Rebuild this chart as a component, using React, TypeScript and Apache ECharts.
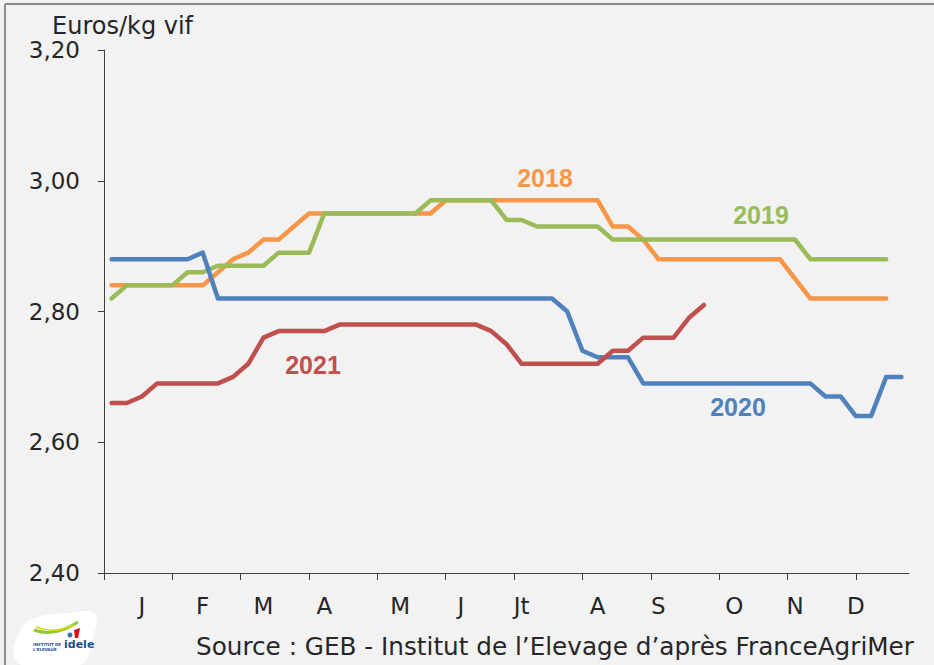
import React, { useEffect, useRef } from "react";
import * as echarts from "echarts";

const monthLabels = ["J", "F", "M", "A", "M", "J", "Jt", "A", "S", "O", "N", "D"];
const monthLabelWeeks = [2, 6, 10, 14, 19, 23, 27, 32, 36, 41, 45, 49];
const monthTickWeeks = [0, 4.5, 9, 13.5, 18, 22.5, 27, 31.5, 36, 40.5, 45, 49.5];

const seriesNames = ["2018", "2019", "2020", "2021"];

const prices2018 = [
  2.84, 2.84, 2.84, 2.84, 2.84, 2.84, 2.84, 2.86, 2.88, 2.89,
  2.91, 2.91, 2.93, 2.95, 2.95, 2.95, 2.95, 2.95, 2.95, 2.95,
  2.95, 2.95, 2.97, 2.97, 2.97, 2.97, 2.97, 2.97, 2.97, 2.97,
  2.97, 2.97, 2.97, 2.93, 2.93, 2.91, 2.88, 2.88, 2.88, 2.88,
  2.88, 2.88, 2.88, 2.88, 2.88, 2.85, 2.82, 2.82, 2.82, 2.82,
  2.82, 2.82,
];
const prices2019 = [
  2.82, 2.84, 2.84, 2.84, 2.84, 2.86, 2.86, 2.87, 2.87, 2.87,
  2.87, 2.89, 2.89, 2.89, 2.95, 2.95, 2.95, 2.95, 2.95, 2.95,
  2.95, 2.97, 2.97, 2.97, 2.97, 2.97, 2.94, 2.94, 2.93, 2.93,
  2.93, 2.93, 2.93, 2.91, 2.91, 2.91, 2.91, 2.91, 2.91, 2.91,
  2.91, 2.91, 2.91, 2.91, 2.91, 2.91, 2.88, 2.88, 2.88, 2.88,
  2.88, 2.88,
];
const prices2020 = [
  2.88, 2.88, 2.88, 2.88, 2.88, 2.88, 2.89, 2.82, 2.82, 2.82,
  2.82, 2.82, 2.82, 2.82, 2.82, 2.82, 2.82, 2.82, 2.82, 2.82,
  2.82, 2.82, 2.82, 2.82, 2.82, 2.82, 2.82, 2.82, 2.82, 2.82,
  2.80, 2.74, 2.73, 2.73, 2.73, 2.69, 2.69, 2.69, 2.69, 2.69,
  2.69, 2.69, 2.69, 2.69, 2.69, 2.69, 2.69, 2.67, 2.67, 2.64,
  2.64, 2.70, 2.70,
];
const prices2021 = [
  2.66, 2.66, 2.67, 2.69, 2.69, 2.69, 2.69, 2.69, 2.70, 2.72,
  2.76, 2.77, 2.77, 2.77, 2.77, 2.78, 2.78, 2.78, 2.78, 2.78,
  2.78, 2.78, 2.78, 2.78, 2.78, 2.77, 2.75, 2.72, 2.72, 2.72,
  2.72, 2.72, 2.72, 2.74, 2.74, 2.76, 2.76, 2.76, 2.79, 2.81,
];

const colors = ["#F79646", "#9BBB59", "#4F81BD", "#C0504D"];
const FONT = "DejaVu Sans";
const LABEL_FONT = "Liberation Sans";
const TEXT = "#262626";

export default function App() {
  const ref = useRef<HTMLDivElement>(null);
  useEffect(() => {
    if (!ref.current) return;
    const chart = echarts.init(ref.current, undefined, { renderer: "svg" });
    const all = [prices2018, prices2019, prices2020, prices2021];
    const series = all.map((arr, k) => ({
      name: seriesNames[k],
      type: "line",
      data: arr.map((v, i) => [i + 0.5, v]),
      showSymbol: false,
      symbol: "none",
      lineStyle: { color: colors[k], width: 4.5, cap: "round", join: "round" },
      itemStyle: { color: colors[k] },
      z: 2 + k,
    }));
    const seriesLabel = (text: string, x: number, y: number, color: string) => ({
      type: "text", x, y,
      style: { text, font: `bold 25px "${LABEL_FONT}"`, fill: color, align: "center", verticalAlign: "middle" },
    });
    chart.setOption({
      animation: false,
      backgroundColor: "#f2f2f2",
      grid: { left: 104, right: 25, top: 50, bottom: 92, containLabel: false },
      xAxis: {
        type: "value",
        min: 0,
        max: 53,
        axisLine: { show: true, onZero: false, lineStyle: { color: "#404040", width: 1 } },
        axisTick: {
          show: true,
          length: 7,
          customValues: monthTickWeeks,
          lineStyle: { color: "#404040" },
        },
        splitLine: { show: false },
        axisLabel: {
          customValues: monthLabelWeeks.map((w) => w + 0.5),
          formatter: (v: number) => {
            const idx = monthLabelWeeks.indexOf(Math.round(v - 0.5));
            return idx >= 0 ? monthLabels[idx] : "";
          },
          fontFamily: FONT,
          fontSize: 23,
          color: TEXT,
          margin: 21,
        },
      },
      yAxis: {
        type: "value",
        min: 2.4,
        max: 3.2,
        interval: 0.2,
        axisLine: { show: true, lineStyle: { color: "#404040", width: 1 } },
        axisTick: { show: true, length: 6, lineStyle: { color: "#404040" } },
        splitLine: { show: false },
        axisLabel: {
          formatter: (v: number) => v.toFixed(2).replace(".", ","),
          fontFamily: FONT,
          fontSize: 23,
          color: TEXT,
          margin: 24,
        },
      },
      series,
      graphic: [
        { type: "line", shape: { x1: 5, y1: 4, x2: 934, y2: 4 }, style: { stroke: "#8c8c8c", lineWidth: 2 }, silent: true },
        { type: "line", shape: { x1: 5, y1: 4, x2: 5, y2: 665 }, style: { stroke: "#8c8c8c", lineWidth: 2 }, silent: true },
        {
          type: "text", x: 52, y: 26,
          style: { text: "Euros/kg vif", font: `24px "${FONT}"`, fill: TEXT, verticalAlign: "middle" },
        },
        {
          type: "text", x: 196, y: 646,
          style: { text: "Source : GEB - Institut de l\u2019Elevage d\u2019apr\u00e8s FranceAgriMer", font: `24.7px "${FONT}"`, fill: TEXT, verticalAlign: "middle" },
        },
        seriesLabel(seriesNames[0], 545, 178, colors[0]),
        seriesLabel(seriesNames[1], 761, 215, colors[1]),
        seriesLabel(seriesNames[2], 738, 407, colors[2]),
        seriesLabel(seriesNames[3], 313, 365, colors[3]),
        {
          type: "polygon",
          shape: { points: [[16, 640], [30, 620], [70, 613], [95, 614], [92, 640], [80, 665], [22, 665], [14, 655]], smooth: 0.4 },
          style: { fill: "#ffffff" },
          silent: true,
        },
        {
          type: "bezierCurve",
          shape: { x1: 34, y1: 630, x2: 78, y2: 622, cpx1: 50, cpy1: 636, cpx2: 66, cpy2: 630 },
          style: { stroke: "#8dc63f", lineWidth: 3, fill: "none" },
          silent: true,
        },
        {
          type: "bezierCurve",
          shape: { x1: 36, y1: 627, x2: 74, y2: 625, cpx1: 52, cpy1: 633, cpx2: 64, cpy2: 630 },
          style: { stroke: "#d4d800", lineWidth: 1.5, fill: "none" },
          silent: true,
        },
        { type: "polygon", shape: { points: [[74, 630], [80, 628], [78, 638], [75, 638]] }, style: { fill: "#e30613" }, silent: true },
        { type: "circle", shape: { cx: 70, cy: 635, r: 2.5 }, style: { fill: "#3b6fb6" }, silent: true },
        { type: "text", x: 33, y: 642, style: { text: "INSTITUT DE", font: `bold 4px "${FONT}"`, fill: "#1d4f91" }, silent: true },
        { type: "text", x: 33, y: 647, style: { text: "L'ELEVAGE", font: `bold 4px "${FONT}"`, fill: "#1d4f91" }, silent: true },
        { type: "text", x: 64, y: 639, style: { text: "idele", font: `bold 11px "${FONT}"`, fill: "#1d4f91" }, silent: true },
      ],
    });
    return () => chart.dispose();
  }, []);
  return (
    <div
      ref={ref}
      style={{ position: "absolute", left: 0, top: 0, width: 934, height: 665, background: "#f2f2f2" }}
    />
  );
}
